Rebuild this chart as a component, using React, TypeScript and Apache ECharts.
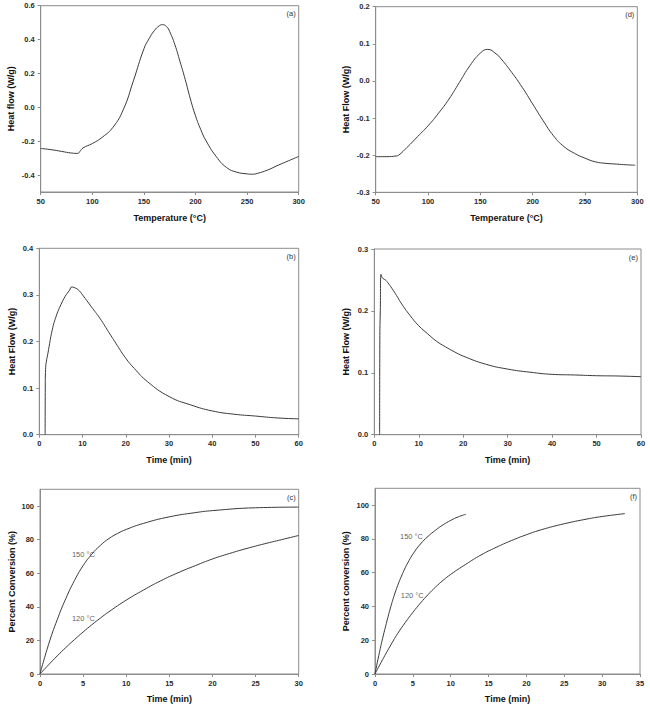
import React, { useEffect, useRef } from 'react';
import * as echarts from 'echarts';

// ---------- DATA ----------
// (a) heat flow vs temperature
const tempA = [50, 60, 70, 80, 86, 88, 91, 100, 110, 120, 130, 140, 150, 155, 160, 165, 168, 172, 175, 180, 185, 190, 195, 200, 205, 210, 220, 230, 240, 250, 255, 260, 270, 280, 290, 300];
const heatA = [-0.243, -0.25, -0.26, -0.27, -0.272, -0.26, -0.24, -0.214, -0.175, -0.118, -0.014, 0.16, 0.345, 0.405, 0.452, 0.482, 0.488, 0.476, 0.447, 0.37, 0.27, 0.165, 0.05, -0.05, -0.13, -0.195, -0.29, -0.355, -0.383, -0.393, -0.395, -0.39, -0.37, -0.342, -0.316, -0.29];

// (d) heat flow vs temperature
const tempD = [50, 60, 70, 72, 80, 90, 100, 110, 120, 130, 140, 150, 157, 165, 170, 180, 190, 200, 210, 220, 230, 240, 250, 260, 270, 280, 290, 298];
const heatD = [-0.204, -0.204, -0.202, -0.2, -0.179, -0.15, -0.121, -0.087, -0.049, -0.004, 0.041, 0.075, 0.085, 0.073, 0.059, 0.023, -0.017, -0.062, -0.107, -0.148, -0.177, -0.195, -0.208, -0.218, -0.222, -0.224, -0.226, -0.227];

// (b) heat flow vs time
const timeB = [1.35, 1.38, 1.45, 1.6, 2, 3, 4, 5, 6, 7, 7.5, 8, 9, 10, 12, 14, 16, 18, 20, 22, 25, 30, 35, 40, 45, 50, 55, 60];
const heatB = [0, 0.1, 0.14, 0.155, 0.175, 0.225, 0.257, 0.279, 0.297, 0.31, 0.317, 0.316, 0.311, 0.3, 0.275, 0.25, 0.221, 0.192, 0.164, 0.142, 0.114, 0.082, 0.064, 0.051, 0.044, 0.04, 0.036, 0.034];

// (e) heat flow vs time
const timeE = [1.2, 1.25, 1.35, 1.5, 1.7, 2, 2.5, 3, 4, 5, 6, 8, 10, 12, 14, 16, 18, 20, 25, 30, 35, 40, 45, 50, 55, 60];
const heatE = [0, 0.16, 0.2, 0.259, 0.255, 0.252, 0.25, 0.246, 0.236, 0.225, 0.213, 0.193, 0.176, 0.163, 0.151, 0.142, 0.134, 0.127, 0.114, 0.106, 0.101, 0.0975, 0.0965, 0.0953, 0.0948, 0.0937];

// (c) percent conversion vs time
const timeC150 = [0, 1, 2, 3, 4, 5, 6, 7, 8, 9, 10, 12, 15, 18, 20, 25, 30];
const convC150 = [0, 17.7, 32.4, 45, 55.7, 64.5, 71.3, 76.6, 80.7, 83.7, 86.1, 89.7, 93.6, 96.1, 97.3, 99, 99.4];
const timeC120 = [0, 1, 2, 3, 4, 5, 6, 7, 8, 10, 12, 14, 16, 18, 20, 22, 24, 26, 28, 30];
const convC120 = [0, 5.5, 10.8, 15.8, 20.5, 25, 29.3, 33.3, 37.1, 44, 50, 55.5, 60.3, 64.5, 68.5, 71.8, 74.8, 77.5, 80, 82.5];

// (f) percent conversion vs time
const timeF150 = [0, 0.5, 1, 1.5, 2, 2.5, 3, 3.5, 4, 4.5, 5, 6, 7, 8, 9, 10, 11, 12];
const convF150 = [0, 11, 21, 30, 38.5, 46, 52.5, 58, 63, 67.2, 71, 77, 81.5, 85.2, 88.4, 91, 93.1, 94.6];
const timeF120 = [0, 1, 2, 3, 4, 5, 6, 7, 8, 9, 10, 12, 14, 16, 18, 20, 22, 25, 28, 30, 33];
const convF120 = [0, 8.5, 16.5, 24, 30.5, 36.5, 42, 47, 51.5, 55.5, 59, 65, 70.5, 75, 79, 82.5, 85.5, 89, 91.8, 93.3, 95];

// tick labels
const tempTicks = [50, 100, 150, 200, 250, 300];
const heatATicks = [-0.4, -0.2, 0, 0.2, 0.4, 0.6];
const heatDTicks = [-0.3, -0.2, -0.1, 0, 0.1, 0.2];
const timeTicks60 = [0, 10, 20, 30, 40, 50, 60];
const heatBTicks = [0, 0.1, 0.2, 0.3, 0.4];
const heatETicks = [0, 0.1, 0.2, 0.3];
const timeTicks30 = [0, 5, 10, 15, 20, 25, 30];
const timeTicks35 = [0, 5, 10, 15, 20, 25, 30, 35];
const convTicks = [0, 20, 40, 60, 80, 100];

// curve labels
const curveLabelsC = [[3.7, 71, '150 °C'], [3.7, 33, '120 °C']];
const curveLabelsF = [[3.3, 81.4, '150 °C'], [3.4, 46.5, '120 °C']];

// ---------- STYLE ----------
const FONT = "'Liberation Sans', Arial, Helvetica, sans-serif";
const AXIS_COLOR = '#8c8c8c';
const LINE_COLOR = '#3a3a3a';

type PanelDef = {
  tag: string;
  left: number; top: number; width: number; height: number;
  xMin: number; xMax: number; xTicks: number[]; xName: string; xGap: number;
  yMin: number; yMax: number; yTicks: number[]; yName: string; yGap: number; yDec: number;
};

const panels: PanelDef[] = [
  { tag: '(a)', left: 40.7, top: 5.7, width: 258, height: 186.3, xMin: 50, xMax: 300, xTicks: tempTicks, xName: 'Temperature (°C)', xGap: 21,
    yMin: -0.5, yMax: 0.6, yTicks: heatATicks, yName: 'Heat flow (W/g)', yGap: 25, yDec: 1 },
  { tag: '(d)', left: 375.7, top: 6.7, width: 261.6, height: 185.6, xMin: 50, xMax: 300, xTicks: tempTicks, xName: 'Temperature (°C)', xGap: 21,
    yMin: -0.3, yMax: 0.2, yTicks: heatDTicks, yName: 'Heat Flow (W/g)', yGap: 25, yDec: 1 },
  { tag: '(b)', left: 39.3, top: 248.3, width: 259.4, height: 186.4, xMin: 0, xMax: 60, xTicks: timeTicks60, xName: 'Time (min)', xGap: 21,
    yMin: 0, yMax: 0.4, yTicks: heatBTicks, yName: 'Heat Flow (W/g)', yGap: 23, yDec: 1 },
  { tag: '(e)', left: 374.3, top: 249, width: 266.7, height: 185.7, xMin: 0, xMax: 60, xTicks: timeTicks60, xName: 'Time (min)', xGap: 21,
    yMin: 0, yMax: 0.3, yTicks: heatETicks, yName: 'Heat Flow (W/g)', yGap: 24, yDec: 1 },
  { tag: '(c)', left: 40, top: 489.3, width: 258.7, height: 187.7, xMin: 0, xMax: 30, xTicks: timeTicks30, xName: 'Time (min)', xGap: 20,
    yMin: 0, yMax: 110, yTicks: convTicks, yName: 'Percent Conversion (%)', yGap: 24, yDec: 0 },
  { tag: '(f)', left: 375, top: 488.3, width: 265, height: 188.7, xMin: 0, xMax: 35, xTicks: timeTicks35, xName: 'Time (min)', xGap: 20,
    yMin: 0, yMax: 110, yTicks: convTicks, yName: 'Percent conversion (%)', yGap: 25, yDec: 0 },
];

const zip = (xs: number[], ys: number[]) => xs.map((x, i) => [x, ys[i]]);

function buildOption() {
  const grid = panels.map((p) => ({
    left: p.left, top: p.top, width: p.width, height: p.height,
    show: true, borderColor: AXIS_COLOR, borderWidth: 1, backgroundColor: 'transparent',
  }));

  const tickLabel = {
    fontSize: 7.5, fontWeight: 'bold' as const, color: '#2a2a2a', fontFamily: FONT,
  };
  const nameStyle = { fontSize: 9, fontWeight: 'bold' as const, color: '#111', fontFamily: FONT };

  const xAxis = panels.map((p, i) => ({
    type: 'value', gridIndex: i, min: p.xMin, max: p.xMax,
    name: p.xName, nameLocation: 'middle', nameGap: p.xGap, nameTextStyle: nameStyle,
    axisLine: { show: true, onZero: false, lineStyle: { color: AXIS_COLOR, width: 1 } },
    axisTick: { show: true, customValues: p.xTicks, length: 3, lineStyle: { color: AXIS_COLOR } },
    axisLabel: { ...tickLabel, customValues: p.xTicks, margin: 5, formatter: (v: number) => String(v) },
    splitLine: { show: false },
  }));

  const yAxis = panels.map((p, i) => ({
    type: 'value', gridIndex: i, min: p.yMin, max: p.yMax,
    name: p.yName, nameLocation: 'middle', nameGap: p.yGap, nameTextStyle: nameStyle,
    axisLine: { show: true, onZero: false, lineStyle: { color: AXIS_COLOR, width: 1 } },
    axisTick: { show: true, customValues: p.yTicks, length: 3, lineStyle: { color: AXIS_COLOR } },
    axisLabel: { ...tickLabel, customValues: p.yTicks, margin: 6,
      formatter: (v: number) => (p.yDec > 0 ? v.toFixed(p.yDec) : String(Math.round(v))) },
    splitLine: { show: false },
  }));

  const line = (i: number, data: number[][]) => ({
    type: 'line', xAxisIndex: i, yAxisIndex: i, data,
    showSymbol: false, symbol: 'none', smooth: 0.5,
    lineStyle: { color: LINE_COLOR, width: 1 }, silent: true,
  });

  const labels = (i: number, data: (number | string)[][]) => ({
    type: 'scatter', xAxisIndex: i, yAxisIndex: i, data, symbolSize: 0, silent: true,
    label: {
      show: true, position: 'right', distance: 0,
      formatter: (prm: any) => prm.value[2],
      fontSize: 7.5, color: '#333', fontFamily: FONT,
    },
  });

  const series = [
    line(0, zip(tempA, heatA)),
    line(1, zip(tempD, heatD)),
    line(2, zip(timeB, heatB)),
    line(3, zip(timeE, heatE)),
    line(4, zip(timeC150, convC150)),
    line(4, zip(timeC120, convC120)),
    line(5, zip(timeF150, convF150)),
    line(5, zip(timeF120, convF120)),
    labels(4, curveLabelsC),
    labels(5, curveLabelsF),
  ];

  const graphic = panels.map((p) => ({
    type: 'text', x: p.left + p.width - 3, y: p.top + 8, silent: true,
    style: { text: p.tag, align: 'right', verticalAlign: 'middle', fontSize: 7.5, fontFamily: FONT, fill: '#333' },
  }));

  return {
    animation: false,
    backgroundColor: '#ffffff',
    grid, xAxis, yAxis, series, graphic,
  };
}

export default function App() {
  const ref = useRef<HTMLDivElement>(null);
  useEffect(() => {
    if (!ref.current) return;
    const chart = echarts.init(ref.current, undefined, { renderer: 'svg' });
    chart.setOption(buildOption() as any);
    return () => chart.dispose();
  }, []);
  return (
    <div
      ref={ref}
      style={{ position: 'absolute', left: 0, top: 0, width: 650, height: 704, background: '#fff' }}
    />
  );
}
